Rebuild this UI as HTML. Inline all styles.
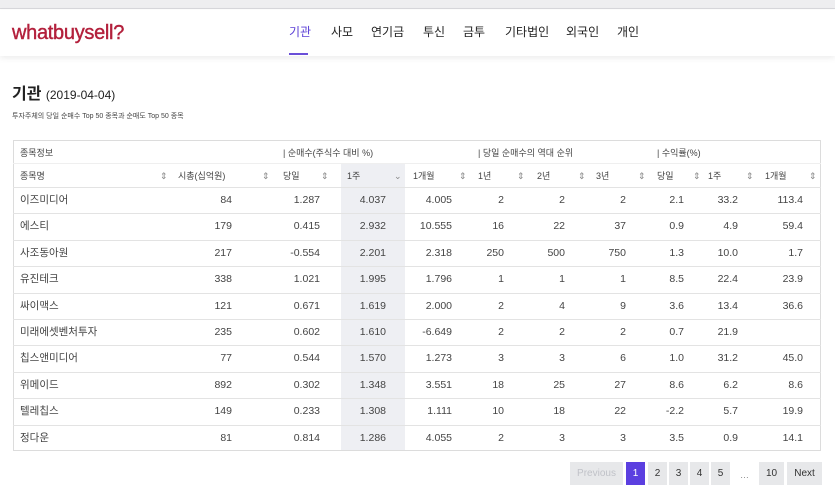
<!DOCTYPE html>
<html><head><meta charset="utf-8">
<style>
*{margin:0;padding:0;box-sizing:border-box}
body{width:835px;height:504px;background:#fff;font-family:"Liberation Sans","Noto Sans CJK KR",sans-serif;color:#333;position:relative;overflow:hidden}
.a{position:absolute;white-space:nowrap;line-height:14px}
.topbar{position:absolute;left:0;top:0;width:835px;height:9px;background:#eeeef0;border-bottom:1px solid #d8d8dc}
.hdr{position:absolute;left:0;top:10px;width:835px;height:46px;background:#fff;box-shadow:0 2px 6px rgba(0,0,0,0.08)}
.nav{font-size:12px;color:#222;top:25px}
.tbl{position:absolute;left:13px;top:140px;width:808px;height:311px;border:1px solid #dcdcdc}
.hline{position:absolute;left:13px;width:808px;height:1px;background:#e3e3e3}
.th{font-size:9px;color:#444}
.td{font-size:10.5px;color:#444}
.ic{font-size:9px;color:#888}
.pg{position:absolute;top:462px;height:23px;background:#e7e8ea;font-size:10px;color:#333;text-align:center;line-height:23px}
</style></head><body>
<div class="topbar"></div>
<div class="hdr"></div>
<div class="a" style="left:12px;top:22px;font-size:20px;line-height:22px;color:#b3203c;letter-spacing:-0.3px;-webkit-text-stroke:0.4px #b3203c">whatbuysell?</div>
<div class="a nav" style="left:289px;color:#5b3fd6">기관</div>
<div class="a" style="left:289px;top:53px;width:19px;height:2px;background:#6a4fd8"></div>
<div class="a nav" style="left:331px">사모</div>
<div class="a nav" style="left:371px">연기금</div>
<div class="a nav" style="left:423px">투신</div>
<div class="a nav" style="left:463px">금투</div>
<div class="a nav" style="left:505px">기타법인</div>
<div class="a nav" style="left:566px">외국인</div>
<div class="a nav" style="left:617px">개인</div>
<div class="a" style="left:12px;top:86px;font-size:16px;line-height:18px;font-weight:bold;color:#222">기관 <span style="font-size:12px;font-weight:normal">(2019-04-04)</span></div>
<div class="a" style="left:12px;top:112px;font-size:7px;line-height:9px;color:#444">투자주체의 당일 순매수 Top 50 종목과 순매도 Top 50 종목</div>
<div class="tbl"></div>
<div class="a" style="left:341px;top:163px;width:64px;height:287px;background:#eeeff3"></div>
<div id="rows"></div>
<div class="pg" style="left:570px;width:53px;color:#c0c2c8">Previous</div>
<div class="pg" style="left:626px;width:19px;background:#5b3fe0;color:#fff">1</div>
<div class="pg" style="left:648px;width:19px">2</div>
<div class="pg" style="left:669px;width:19px">3</div>
<div class="pg" style="left:690px;width:19px">4</div>
<div class="pg" style="left:711px;width:19px">5</div>
<div class="a" style="left:740px;top:468px;font-size:9px;color:#888">…</div>
<div class="pg" style="left:759px;width:25px">10</div>
<div class="pg" style="left:787px;width:35px">Next</div>
<script>
var h='';
function t(x,y,s,c,al){h+='<div class="a '+c+'" style="'+(al?'right:'+(835-x)+'px':'left:'+x+'px')+';top:'+y+'px">'+s+'</div>';}
t(20,146,'종목정보','th');t(283,146,'| 순매수(주식수 대비 %)','th');t(478,146,'| 당일 순매수의 역대 순위','th');t(657,146,'| 수익률(%)','th');
var hy=169;
t(20,hy,'종목명','th');t(178,hy,'시총(십억원)','th');t(283,hy,'당일','th');t(347,hy,'1주','th');t(413,hy,'1개월','th');t(478,hy,'1년','th');t(537,hy,'2년','th');t(596,hy,'3년','th');t(657,hy,'당일','th');t(708,hy,'1주','th');t(765,hy,'1개월','th');
[160,262,321,459,517,578,638,693,746,809].forEach(function(x){t(x,hy,'⇕','ic');});
t(394,hy,'⌄','ic');
h+='<div class="hline" style="top:163px;background:#efefef"></div><div class="hline" style="top:187px"></div>';
var d=[['이즈미디어','84','1.287','4.037','4.005','2','2','2','2.1','33.2','113.4'],
['에스티','179','0.415','2.932','10.555','16','22','37','0.9','4.9','59.4'],
['사조동아원','217','-0.554','2.201','2.318','250','500','750','1.3','10.0','1.7'],
['유진테크','338','1.021','1.995','1.796','1','1','1','8.5','22.4','23.9'],
['싸이맥스','121','0.671','1.619','2.000','2','4','9','3.6','13.4','36.6'],
['미래에셋벤처투자','235','0.602','1.610','-6.649','2','2','2','0.7','21.9',''],
['칩스앤미디어','77','0.544','1.570','1.273','3','3','6','1.0','31.2','45.0'],
['위메이드','892','0.302','1.348','3.551','18','25','27','8.6','6.2','8.6'],
['텔레칩스','149','0.233','1.308','1.111','10','18','22','-2.2','5.7','19.9'],
['정다운','81','0.814','1.286','4.055','2','3','3','3.5','0.9','14.1']];
var rx=[232,320,386,452,504,565,626,684,738,803];
d.forEach(function(r,i){var y=Math.round(187+i*26.4);
t(20,y+6,r[0],'td');
for(var j=1;j<11;j++)t(rx[j-1],y+6,r[j],'td',1);
if(i<9)h+='<div class="hline" style="top:'+Math.round(187+(i+1)*26.4)+'px"></div>';});
document.getElementById('rows').innerHTML=h;
</script>
</body></html>
